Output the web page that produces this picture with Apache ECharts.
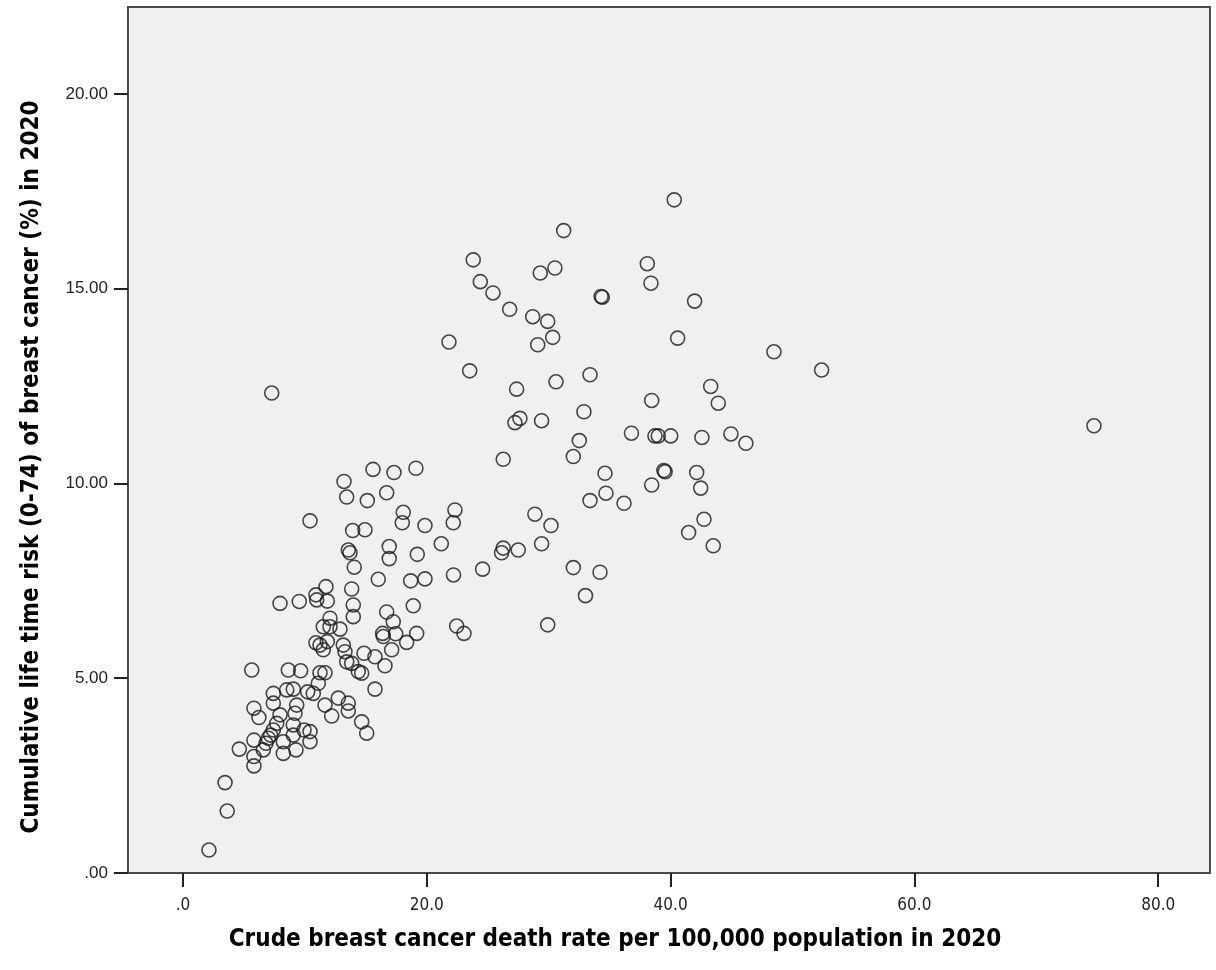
<!DOCTYPE html>
<html>
<head>
<meta charset="utf-8">
<script src="https://cdn.jsdelivr.net/npm/echarts@6/dist/echarts.min.js"></script>
<style>html,body{margin:0;padding:0;background:#fff}#c{width:1216px;height:970px}</style>
</head>
<body>
<div id="c"></div>
<script>
// Crude breast cancer death rate per 100,000 (x)
const deathRate = [
40.30,31.23,23.81,38.09,30.51,29.31,24.39,34.30,34.40,38.39,25.43,41.97,26.80,28.69,29.92,30.33,29.10,40.58,48.48,21.82,
23.52,27.37,30.60,33.39,43.29,38.45,43.91,52.39,74.73,7.28,
32.89,27.64,27.23,29.42,36.79,38.72,38.99,40.01,42.57,44.95,46.18,32.51,32.02,26.27,39.45,39.55,34.62,42.14,38.45,42.47,
34.70,33.39,36.18,42.74,41.48,43.50,28.87,30.19,29.42,26.27,26.14,27.50,32.02,34.21,33.02,29.92,24.58,23.05,22.45,17.31,
19.11,15.59,
13.21,13.43,15.12,16.71,10.42,13.92,14.93,18.07,17.99,19.85,22.31,22.17,13.56,13.70,14.05,16.92,16.92,19.22,21.19,16.02,
18.68,19.85,22.19,11.73,13.84,7.96,9.54,10.91,10.97,11.84,13.97,13.97,16.71,17.25,18.89,12.06,11.51,12.06,12.88,10.91,
11.24,11.84,11.51,13.15,13.29,13.43,13.84,14.85,15.75,16.38,16.43,17.45,17.12,18.35,19.17,16.57,14.38,14.66,5.64,8.64,
9.65,11.24,11.65,
2.13,3.63,3.45,4.62,5.82,5.82,5.82,6.59,6.81,7.00,7.19,7.41,7.69,7.96,8.23,8.23,9.27,9.05,9.19,9.33,
5.82,6.23,7.41,7.41,8.51,9.05,10.23,10.69,11.10,10.42,10.42,9.93,9.05,11.65,12.20,12.74,13.56,13.56,14.66,15.07,
15.75
];
// Cumulative life time risk (0-74) of breast cancer (%) (y)
const lifeRisk = [
17.28,16.49,15.74,15.64,15.53,15.40,15.18,14.80,14.78,15.14,14.89,14.68,14.47,14.28,14.16,13.75,13.56,13.73,13.38,13.63,
12.89,12.42,12.61,12.79,12.49,12.13,12.06,12.91,11.48,12.32,
11.84,11.67,11.56,11.61,11.29,11.22,11.22,11.22,11.18,11.27,11.03,11.10,10.69,10.62,10.33,10.30,10.26,10.28,9.96,9.88,
9.75,9.56,9.49,9.08,8.74,8.40,9.21,8.92,8.45,8.34,8.22,8.29,7.84,7.72,7.12,6.37,7.80,6.15,6.34,10.28,
10.39,10.36,
10.05,9.65,9.56,9.76,9.04,8.79,8.81,9.26,8.99,8.92,9.32,8.99,8.29,8.22,7.85,8.38,8.07,8.18,8.45,7.54,
7.50,7.55,7.65,7.35,7.29,6.92,6.97,7.14,7.01,6.98,6.88,6.58,6.70,6.45,6.86,6.54,6.32,6.32,6.26,5.91,
5.85,5.94,5.73,5.85,5.68,5.42,5.38,5.64,5.55,6.15,6.07,6.14,5.73,5.92,6.15,5.32,5.17,5.13,5.21,5.21,
5.19,5.14,5.14,
0.59,1.59,2.32,3.18,3.41,2.99,2.75,3.16,3.33,3.46,3.54,3.67,3.84,4.06,3.37,3.07,3.16,3.80,4.10,4.31,
4.23,3.99,4.61,4.36,4.70,4.72,4.65,4.61,4.87,3.63,3.37,3.67,3.54,4.31,4.03,4.49,4.36,4.16,3.88,3.59,
4.72
];
const xTicks = [0, 20, 40, 60, 80];
const xTickLabels = ['.0', '20.0', '40.0', '60.0', '80.0'];
const yTicks = [0, 5, 10, 15, 20];
const yTickLabels = ['.00', '5.00', '10.00', '15.00', '20.00'];
const xTitle = 'Crude breast cancer death rate per 100,000 population in 2020';
const yTitle = 'Cumulative life time risk (0-74) of breast cancer (%) in 2020';

const points = deathRate.map((x, i) => [x, lifeRisk[i]]);
const chart = echarts.init(document.getElementById('c'), null, {renderer: 'canvas'});
const titleFont = "'Liberation Sans Narrow','DejaVu Sans Condensed','Arial Narrow',sans-serif";
chart.setOption({
  animation: false,
  backgroundColor: '#ffffff',
  grid: {left: 128, right: 6, top: 7, bottom: 97, show: true, backgroundColor: '#f0f0f0', borderColor: '#4a4a4a', borderWidth: 2, containLabel: false},
  xAxis: {
    type: 'value', min: -4.51, max: 84.25,
    name: xTitle, nameLocation: 'middle', nameGap: 55,
    nameTextStyle: {fontFamily: titleFont, fontWeight: 'bold', fontSize: 24, color: '#000', padding: [0, 108, 0, 0]},
    splitLine: {show: false},
    axisLine: {show: true, onZero: false, lineStyle: {color: '#4a4a4a', width: 2}},
    axisTick: {show: true, length: 14, lineStyle: {color: '#222', width: 2}, customValues: xTicks},
    axisLabel: {customValues: xTicks, margin: 24, fontFamily: "'Liberation Sans Narrow','DejaVu Sans Condensed',sans-serif", fontSize: 17, color: '#222',
      formatter: v => xTickLabels[xTicks.indexOf(v)] ?? ''}
  },
  yAxis: {
    type: 'value', min: 0, max: 22.23,
    name: yTitle, nameLocation: 'middle', nameGap: 84,
    nameTextStyle: {fontFamily: titleFont, fontWeight: 'bold', fontSize: 24, color: '#000', padding: [0, 54, 0, 0]},
    splitLine: {show: false},
    axisLine: {show: true, onZero: false, lineStyle: {color: '#4a4a4a', width: 2}},
    axisTick: {show: true, length: 14, lineStyle: {color: '#222', width: 2}, customValues: yTicks},
    axisLabel: {customValues: yTicks, margin: 20, fontFamily: "'Liberation Sans','Arial',sans-serif", fontSize: 17, color: '#222',
      formatter: v => yTickLabels[yTicks.indexOf(v)] ?? ''}
  },
  series: [{
    type: 'scatter', data: points, symbol: 'circle', symbolSize: 14,
    itemStyle: {color: 'rgba(0,0,0,0)', borderColor: '#1a1a1a', borderWidth: 1.6},
    emphasis: {disabled: true}
  }]
});
</script>
</body>
</html>
